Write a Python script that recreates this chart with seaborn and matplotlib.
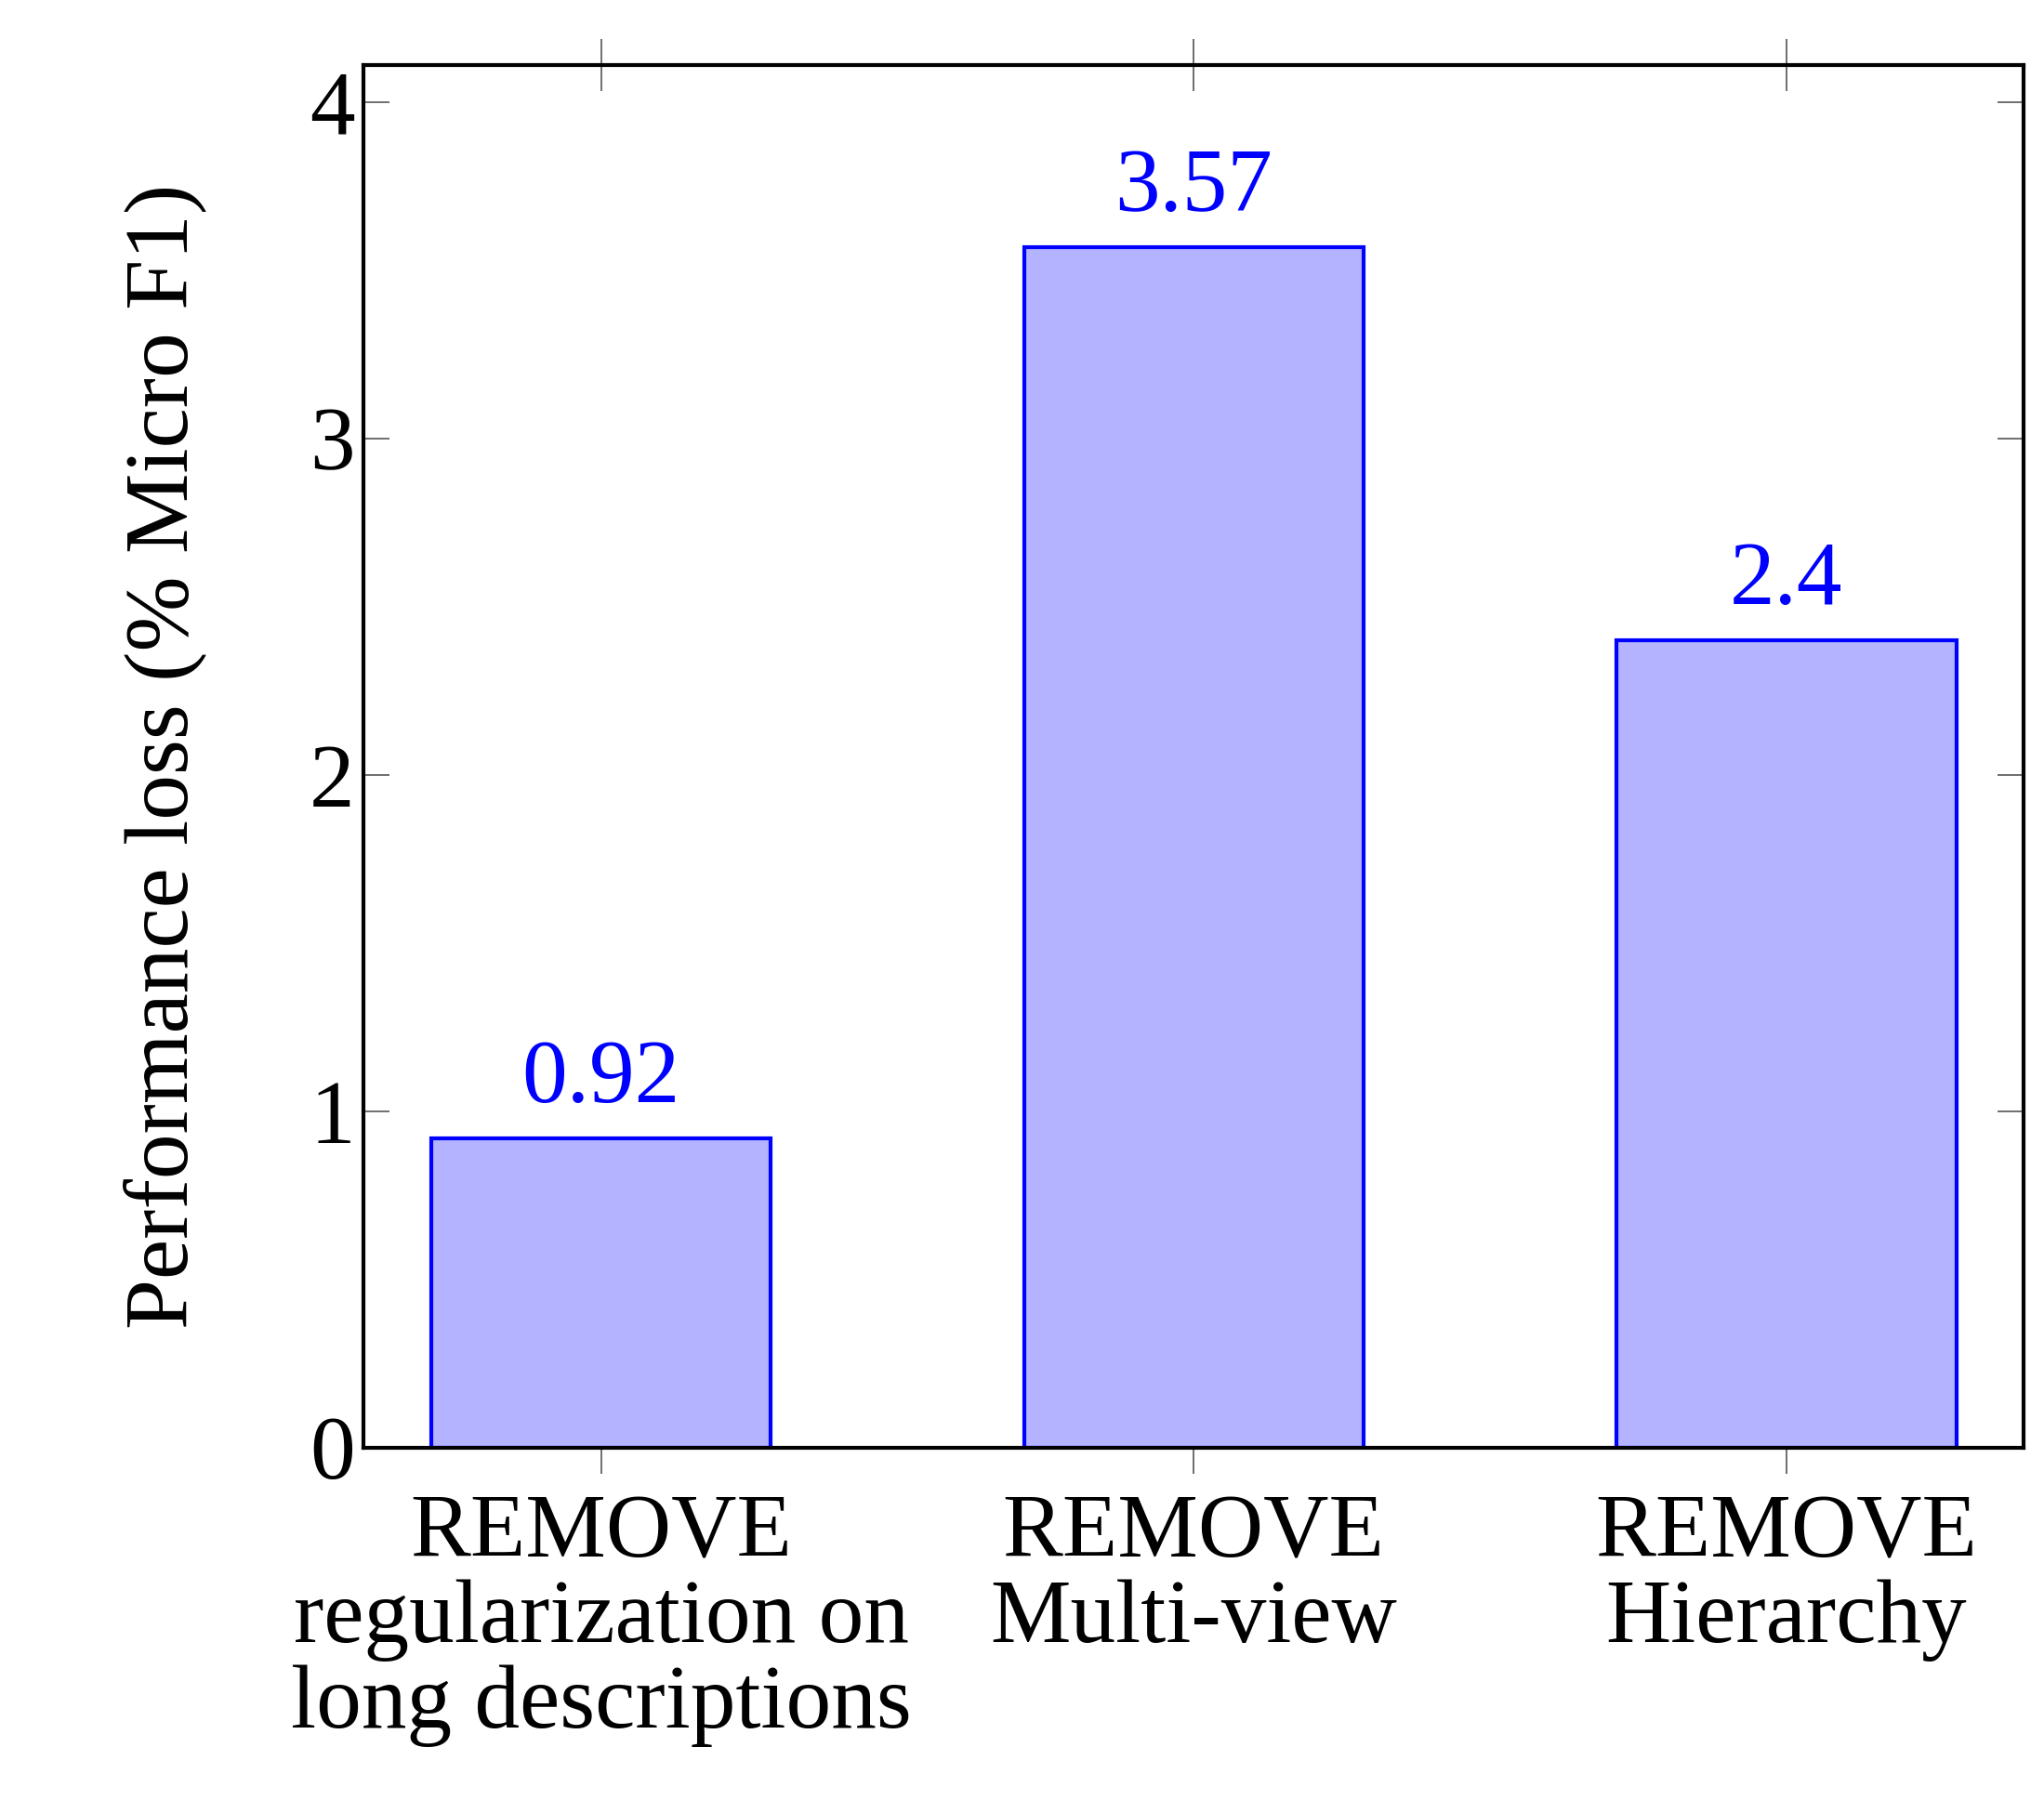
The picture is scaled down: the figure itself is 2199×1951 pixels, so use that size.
import matplotlib
matplotlib.use("Agg")
import matplotlib.pyplot as plt
import seaborn as sns
import pandas as pd

categories = ["REMOVE\nregularization on\nlong descriptions", "REMOVE\nMulti-view", "REMOVE\nHierarchy"]
values = [0.92, 3.57, 2.4]
labels = ["0.92", "3.57", "2.4"]

sns.set_theme(style="white")
plt.rcParams['font.family'] = ['Liberation Serif', 'DejaVu Serif']
plt.rcParams['text.color'] = 'black'
plt.rcParams['axes.labelcolor'] = 'black'
plt.rcParams['xtick.color'] = 'black'
plt.rcParams['ytick.color'] = 'black'

FS = 35
df = pd.DataFrame({"cat": categories, "val": values})
fig = plt.figure(figsize=(10.995, 9.755), dpi=200)
ax = fig.add_axes([0.178, 0.2016, 0.812, 0.7624])
sns.barplot(data=df, x="cat", y="val", ax=ax, color="#b3b3ff", saturation=1,
            width=0.573, edgecolor="#0000ff", linewidth=1.5)
for i, (v, t) in enumerate(zip(values, labels)):
    ax.text(i, v + 0.05, t, ha="center", va="bottom", color="#0000ff", fontsize=FS)
ax.set_xlim(-0.4, 2.4)
ax.set_ylim(0, 4.11)
ax.set_yticks([0, 1, 2, 3, 4])
ax.set_xlabel("")
ax.set_ylabel("Performance loss (% Micro F1)", fontsize=FS, labelpad=40)
ax.tick_params(axis="both", direction="in", length=10, width=0.6, color="#555555",
               top=True, right=True, labelsize=FS, bottom=True, left=True, labelcolor="black")
ax.tick_params(axis="x", direction="inout", length=20, pad=8)
for lbl in ax.get_xticklabels():
    lbl.set_linespacing(1.05)
for s in ax.spines.values():
    s.set_color("black"); s.set_linewidth(1.5)
fig.savefig("out.png", dpi=200)
